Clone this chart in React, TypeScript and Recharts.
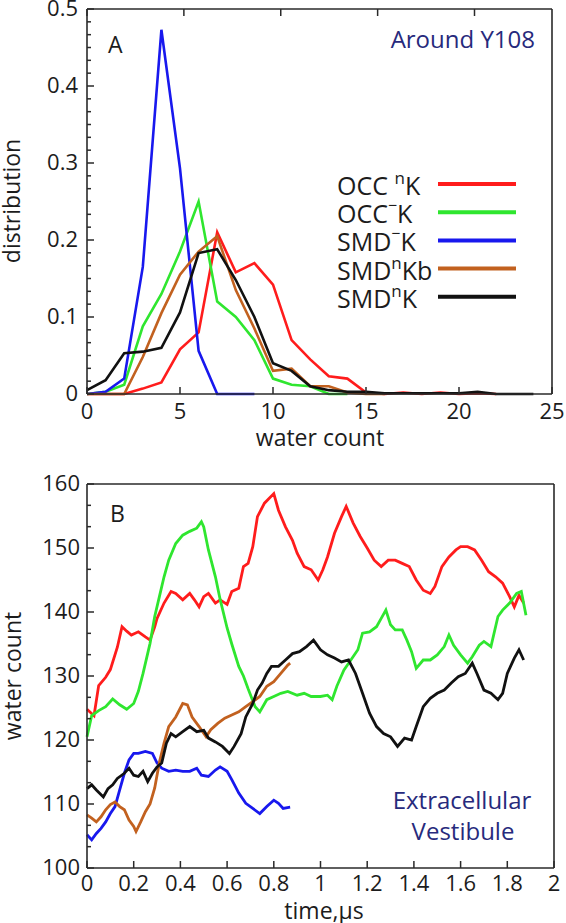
import React from "react";
import { LineChart, Line, XAxis, YAxis } from "recharts";

const FONT = '"Open Sans", "DejaVu Sans", sans-serif';
const INK = "#1c1c1c";
const NAVY = "#272a7c";
const FRAME = { stroke: "#2a2a2a", strokeWidth: 1.6 };

// ---- panel A: distribution of water count around Y108 ----
const waterCount = [0, 1, 2, 3, 4, 5, 6, 7, 8, 9, 10, 11, 12, 13, 14, 15, 16, 17, 18, 19, 20, 21, 22, 23, 24];
const occNK = [0, 0, 0, 0.007, 0.015, 0.058, 0.08, 0.21, 0.158, 0.17, 0.142, 0.07, 0.045, 0.023, 0.02, 0.002, 0, 0.002, 0, 0.002, 0, 0.001, 0];
const occMK = [0, 0.003, 0.012, 0.088, 0.13, 0.185, 0.25, 0.12, 0.1, 0.07, 0.02, 0.012, 0.01, 0, 0];
const smdMK = [0, 0.003, 0.02, 0.165, 0.473, 0.293, 0.056, 0, 0, 0];
const smdNKb = [0, 0, 0, 0.048, 0.105, 0.155, 0.185, 0.205, 0.135, 0.085, 0.03, 0.033, 0.01, 0.01, 0.002, 0, 0];
const smdNK = [0.005, 0.018, 0.053, 0.055, 0.06, 0.106, 0.183, 0.188, 0.148, 0.1, 0.04, 0.03, 0.01, 0.005, 0.003, 0.003, 0.001, 0.001, 0.001, 0.001, 0.001, 0.003, 0, 0, 0];

const countTicks = [0, 5, 10, 15, 20, 25];
const distTicks = [0, 0.1, 0.2, 0.3, 0.4, 0.5];

// ---- panel B: water count in the extracellular vestibule vs time ----
const tOccNK = [0, 0.03, 0.05, 0.08, 0.1, 0.13, 0.15, 0.17, 0.19, 0.22, 0.25, 0.27, 0.29, 0.3, 0.33, 0.36, 0.38, 0.41, 0.44, 0.46, 0.48, 0.5, 0.52, 0.55, 0.57, 0.6, 0.62, 0.65, 0.67, 0.69, 0.71, 0.73, 0.76, 0.8, 0.82, 0.85, 0.88, 0.9, 0.93, 0.96, 0.99, 1.01, 1.03, 1.06, 1.09, 1.11, 1.14, 1.17, 1.2, 1.23, 1.26, 1.29, 1.32, 1.35, 1.38, 1.41, 1.44, 1.47, 1.49, 1.52, 1.55, 1.58, 1.6, 1.63, 1.66, 1.69, 1.72, 1.75, 1.78, 1.81, 1.83, 1.85, 1.87];
const wOccNK = [124.8, 123.8, 128.5, 129.8, 131, 134.5, 137.7, 137, 136.4, 136.9, 136.1, 135.6, 137.7, 139, 141.4, 143.2, 142.9, 141.9, 142.9, 141.9, 140.8, 142.4, 142.9, 141.4, 141.9, 141.2, 143.2, 143.7, 147.1, 147.6, 150.2, 154.9, 157, 158.5, 155.9, 153.3, 151.2, 149.2, 147.1, 146.6, 145, 146.6, 148.6, 152.3, 154.9, 156.5, 153.9, 151.8, 150, 148.1, 147.1, 148.1, 148.1, 147.6, 147.1, 145, 143.4, 142.9, 144, 147.1, 148.6, 149.7, 150.2, 150.2, 149.7, 148.1, 146.3, 145.5, 144.5, 142.4, 140.8, 142.6, 141.4];

const tOccMK = [0, 0.02, 0.05, 0.08, 0.11, 0.14, 0.17, 0.2, 0.22, 0.24, 0.27, 0.29, 0.31, 0.33, 0.35, 0.38, 0.41, 0.44, 0.47, 0.49, 0.5, 0.52, 0.55, 0.57, 0.6, 0.62, 0.65, 0.67, 0.69, 0.72, 0.74, 0.77, 0.8, 0.83, 0.86, 0.9, 0.93, 0.96, 1.0, 1.03, 1.05, 1.07, 1.1, 1.13, 1.16, 1.18, 1.21, 1.24, 1.26, 1.28, 1.3, 1.32, 1.35, 1.37, 1.39, 1.41, 1.44, 1.47, 1.5, 1.53, 1.55, 1.57, 1.6, 1.63, 1.65, 1.68, 1.7, 1.73, 1.76, 1.78, 1.81, 1.84, 1.86, 1.88];
const wOccMK = [120.5, 123.8, 124.6, 125.2, 126.4, 125.5, 124.8, 125.7, 127.6, 130.4, 135.1, 139.3, 142.4, 145.5, 148.1, 150.7, 152, 152.6, 153.1, 154.1, 153.3, 149.7, 145.5, 142, 137.5, 135, 131.5, 130, 128, 125.2, 124.4, 126.3, 126.8, 127.3, 127.6, 127, 127.3, 126.8, 126.8, 127, 126.3, 128.4, 130.9, 132.5, 134.1, 136.7, 136.9, 137.7, 139, 140.3, 138, 137.2, 137.2, 135.6, 133.8, 131.2, 132.5, 132.5, 133.3, 134.6, 136.4, 134.8, 133.3, 132, 133, 134.8, 135.4, 134.6, 139.3, 140.3, 141.4, 142.9, 143.2, 139.5];

const tSmdMK = [0, 0.02, 0.04, 0.06, 0.08, 0.1, 0.12, 0.14, 0.16, 0.18, 0.2, 0.22, 0.25, 0.28, 0.3, 0.32, 0.35, 0.38, 0.41, 0.44, 0.47, 0.49, 0.52, 0.55, 0.57, 0.6, 0.62, 0.65, 0.68, 0.71, 0.74, 0.77, 0.8, 0.82, 0.84, 0.87];
const wSmdMK = [105.2, 104.4, 105.4, 106.2, 107.2, 108.5, 109.6, 112.2, 114.8, 116.9, 117.9, 117.9, 118.2, 117.9, 116.4, 115.6, 115.1, 115.3, 115.1, 115.1, 115.6, 114.5, 114.3, 115.3, 115.8, 115.1, 113.8, 111.7, 110.1, 109.3, 108.5, 109.6, 110.6, 110.1, 109.3, 109.5];

const tSmdNKb = [0, 0.02, 0.04, 0.06, 0.08, 0.1, 0.12, 0.14, 0.16, 0.18, 0.2, 0.21, 0.23, 0.25, 0.27, 0.29, 0.31, 0.33, 0.35, 0.38, 0.41, 0.43, 0.45, 0.48, 0.51, 0.53, 0.56, 0.59, 0.62, 0.65, 0.68, 0.71, 0.74, 0.77, 0.8, 0.83, 0.86, 0.87];
const wSmdNKb = [108.3, 107.8, 107.2, 108, 109.1, 109.9, 110.3, 109.6, 109.1, 107.5, 106.5, 105.7, 107.2, 108.8, 110, 112.5, 116.5, 119.5, 122.1, 123.6, 125.7, 125.5, 123.6, 122.1, 120.5, 121.6, 122.6, 123.4, 123.9, 124.4, 125.2, 126, 126.8, 128.4, 129.1, 130.4, 131.7, 132];

const tSmdNK = [0, 0.02, 0.04, 0.07, 0.09, 0.11, 0.13, 0.16, 0.18, 0.2, 0.22, 0.24, 0.26, 0.28, 0.3, 0.32, 0.34, 0.36, 0.38, 0.41, 0.44, 0.47, 0.5, 0.52, 0.55, 0.58, 0.61, 0.63, 0.66, 0.68, 0.71, 0.73, 0.75, 0.77, 0.79, 0.82, 0.85, 0.88, 0.91, 0.94, 0.97, 1.0, 1.03, 1.06, 1.09, 1.12, 1.15, 1.18, 1.21, 1.24, 1.27, 1.3, 1.33, 1.36, 1.39, 1.41, 1.44, 1.47, 1.5, 1.53, 1.56, 1.59, 1.62, 1.65, 1.67, 1.7, 1.73, 1.76, 1.78, 1.8, 1.83, 1.85, 1.87];
const wSmdNK = [112.4, 113, 112.2, 111.1, 112.4, 113, 114, 114.8, 115.6, 114.5, 114.3, 115.1, 113.5, 114.8, 115.8, 116.4, 119.5, 121, 120.5, 121.3, 122.1, 121.3, 121.5, 120.3, 119.7, 119, 117.9, 119, 121, 123.6, 125.7, 127.8, 128.9, 130.4, 131.5, 131.5, 132.5, 133.5, 133.8, 134.6, 135.6, 134.1, 133.3, 132.8, 132.2, 132.5, 130.4, 127.3, 124.2, 122.1, 121, 120.5, 119, 120.3, 120, 122.1, 125.2, 126.5, 127.3, 127.8, 128.9, 129.9, 130.4, 132, 130.4, 127.8, 127.3, 126.3, 127.3, 130.4, 132.8, 134.1, 132.5];

const timeTicks = [0, 0.2, 0.4, 0.6, 0.8, 1, 1.2, 1.4, 1.6, 1.8, 2];
const wcTicks = [100, 110, 120, 130, 140, 150, 160];

const series = [
  { key: "occNK", pre: "OCC ", sup: "n", post: "K", color: "#ff1c1c", hist: occNK, t: tOccNK, w: wOccNK },
  { key: "occMK", pre: "OCC", sup: "\u2212", post: "K", color: "#2fe62f", hist: occMK, t: tOccMK, w: wOccMK },
  { key: "smdMK", pre: "SMD", sup: "\u2212", post: "K", color: "#1818ee", hist: smdMK, t: tSmdMK, w: wSmdMK },
  { key: "smdNKb", pre: "SMD", sup: "n", post: "Kb", color: "#c2611f", hist: smdNKb, t: tSmdNKb, w: wSmdNKb },
  { key: "smdNK", pre: "SMD", sup: "n", post: "K", color: "#111111", hist: smdNK, t: tSmdNK, w: wSmdNK },
];

const histRows = waterCount.map((x, i) => {
  const row: { [k: string]: number | null } = { x };
  series.forEach((s) => (row[s.key] = i < s.hist.length ? s.hist[i] : null));
  return row;
});

// minor ticks between each pair of majors
function subdivide(majors: number[], n: number) {
  const out: number[] = [];
  for (let i = 0; i < majors.length - 1; i++) {
    for (let k = 0; k < n; k++) out.push(majors[i] + ((majors[i + 1] - majors[i]) * k) / n);
  }
  out.push(majors[majors.length - 1]);
  return out;
}
const isMajor = (v: number, majors: number[]) => majors.some((m) => Math.abs(m - v) < 1e-6);

function InTick(props: any) {
  const { x, y, payload, side, majors, label, gap = 25 } = props;
  const v = payload.value as number;
  const major = isMajor(v, majors);
  const len = major ? 7 : 4;
  let line;
  let text = null;
  if (side === "bottom") {
    line = <line x1={x} y1={y} x2={x} y2={y - len} stroke="#2a2a2a" strokeWidth={1.5} />;
    if (label) text = <text x={x} y={y + gap} textAnchor="middle" fontSize={22} fontFamily={FONT} fill={INK}>{String(v)}</text>;
  } else if (side === "top") {
    line = <line x1={x} y1={y} x2={x} y2={y + len} stroke="#2a2a2a" strokeWidth={1.5} />;
  } else if (side === "left") {
    line = <line x1={x} y1={y} x2={x + len} y2={y} stroke="#2a2a2a" strokeWidth={1.5} />;
    if (label && major)
      text = <text x={x - gap} y={y + 7} textAnchor="end" fontSize={22} fontFamily={FONT} fill={INK}>{String(Math.round(v * 10) / 10)}</text>;
  } else {
    line = <line x1={x} y1={y} x2={x - len} y2={y} stroke="#2a2a2a" strokeWidth={1.5} />;
  }
  return <g>{line}{text}</g>;
}

function Frame({ xTicks, yTicks, yMajors, xDomain, yDomain, yGap, xGap }: any) {
  return [
    <XAxis key="xb" xAxisId={0} type="number" dataKey={xTicks === countTicks ? "x" : "t"} domain={xDomain} ticks={xTicks} interval={0}
      height={40} tickSize={0} tickMargin={0} axisLine={FRAME} tickLine={false}
      tick={(p: any) => <InTick {...p} side="bottom" majors={xTicks} label gap={xGap} />} />,
    <XAxis key="xt" xAxisId="top" orientation="top" type="number" domain={xDomain} ticks={xTicks} interval={0}
      height={2} tickSize={0} tickMargin={0} axisLine={FRAME} tickLine={false}
      tick={(p: any) => <InTick {...p} side="top" majors={xTicks} />} />,
    <YAxis key="yl" yAxisId={0} type="number" domain={yDomain} ticks={yTicks} interval={0}
      width={60} tickSize={0} tickMargin={0} axisLine={FRAME} tickLine={false}
      tick={(p: any) => <InTick {...p} side="left" majors={yMajors} label gap={yGap} />} />,
    <YAxis key="yr" yAxisId="r" orientation="right" type="number" domain={yDomain} ticks={yTicks} interval={0}
      width={2} tickSize={0} tickMargin={0} axisLine={FRAME} tickLine={false}
      tick={(p: any) => <InTick {...p} side="right" majors={yMajors} />} />,
  ];
}

function Sup({ s, x, y, size }: any) {
  const raise = s.sup === "n" ? 11 : 12;
  return (
    <text x={x} y={y} fontSize={size} fontFamily={FONT} fill={INK}>
      {s.pre}
      <tspan dy={-raise} fontSize={s.sup === "n" ? 17 : 16}>{s.sup}</tspan>
      <tspan dy={raise}>{s.post}</tspan>
    </text>
  );
}

export default function App() {
  const distAll = subdivide(distTicks, 6);
  const wcAll = subdivide(wcTicks, 3);
  return (
    <div style={{ position: "absolute", left: 0, top: 0, width: 566, height: 923, background: "#fff" }}>
      <div style={{ position: "absolute", left: 0, top: 0 }}>
        <LineChart width={566} height={460} data={histRows} margin={{ top: 7, right: 12, bottom: 26, left: 27 }}>
          {Frame({ xTicks: countTicks, yTicks: distAll, yMajors: distTicks, xDomain: [0, 25], yDomain: [0, 0.5], yGap: 9, xGap: 25 })}
          {series.map((s) => (
            <Line key={s.key} type="linear" dataKey={s.key} stroke={s.color} strokeWidth={2.6} dot={false}
              isAnimationActive={false} connectNulls={false} />
          ))}
        </LineChart>
      </div>
      <div style={{ position: "absolute", left: 0, top: 460 }}>
        <LineChart width={566} height={463} margin={{ top: 22, right: 10, bottom: 15, left: 27 }}>
          {Frame({ xTicks: timeTicks, yTicks: wcAll, yMajors: wcTicks, xDomain: [0, 2], yDomain: [100, 160], yGap: 7, xGap: 23 })}
          {series.map((s) => (
            <Line key={s.key} type="linear" data={s.t.map((t, i) => ({ t, v: s.w[i] }))} dataKey="v"
              stroke={s.color} strokeWidth={2.8} dot={false} isAnimationActive={false} />
          ))}
        </LineChart>
      </div>
      <svg width={566} height={923} style={{ position: "absolute", left: 0, top: 0, pointerEvents: "none" }}>
        <text x={108} y={53} fontSize={23} fontFamily={FONT} fill={INK}>A</text>
        <text x={535} y={48} textAnchor="end" fontSize={24} fontFamily={FONT} fill={NAVY}>Around Y108</text>
        <text transform="translate(20,201) rotate(-90)" textAnchor="middle" fontSize={23} fontFamily={FONT} fill={INK}>distribution</text>
        <text x={320} y={446} textAnchor="middle" fontSize={23} fontFamily={FONT} fill={INK}>water count</text>
        {series.map((s, i) => (
          <g key={s.key}>
            <Sup s={s} x={337} y={195 + 28.2 * i} size={25} />
            <line x1={438} x2={516} y1={184 + 28.2 * i} y2={184 + 28.2 * i} stroke={s.color} strokeWidth={4} />
          </g>
        ))}
        <text x={110} y={522} fontSize={23} fontFamily={FONT} fill={INK}>B</text>
        <text transform="translate(21,676) rotate(-90)" textAnchor="middle" fontSize={23} fontFamily={FONT} fill={INK}>water count</text>
        <text x={324} y={919} textAnchor="middle" fontSize={23} fontFamily={FONT} fill={INK}>time,μs</text>
        <text x={462} y={809} textAnchor="middle" fontSize={24} fontFamily={FONT} fill={NAVY}>Extracellular</text>
        <text x={463} y={840} textAnchor="middle" fontSize={24} fontFamily={FONT} fill={NAVY}>Vestibule</text>
      </svg>
    </div>
  );
}
